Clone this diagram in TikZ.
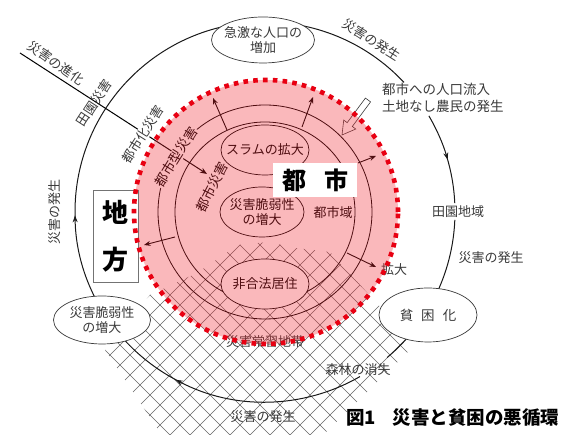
\documentclass[tikz,border=0pt]{standalone}
\usepackage{fontspec}
\setmainfont{Noto Sans CJK JP}
\usetikzlibrary{arrows.meta,calc,shapes.geometric}
\definecolor{ink}{HTML}{3A3A3A}
\definecolor{pinkred}{RGB}{240,40,50}
\definecolor{dotred}{RGB}{232,0,18}
\begin{document}
\begin{tikzpicture}[x=1pt,y=1pt,
  lbl/.style={font=\fontsize{13}{15.5}\selectfont, text=ink, inner sep=1pt, align=center},
  ilbl/.style={font=\fontsize{13.5}{15.5}\selectfont, text=black, inner sep=0.6pt},
  bub/.style={ellipse, draw=ink, fill=white, line width=0.7pt, inner sep=0pt},
  ibub/.style={ellipse, draw=black, fill=white, line width=0.7pt, inner sep=0pt},
  cyc/.style={draw=black!90, line width=1pt},
  cycarr/.style={cyc, -{Stealth[length=7pt,width=5pt]}},
  inarr/.style={draw=black, line width=0.9pt, -{Stealth[length=6.5pt,width=5pt]}},
  ring/.style={draw=black, line width=0.8pt},
  hatch/.style={draw=black!60, line width=0.5pt},
  bigbox/.style={fill=white, inner sep=0pt}
]
\useasboundingbox (0,0) rectangle (571,435);
\fill[white] (0,0) rectangle (571,435);

\coordinate (C) at (265,223);
\coordinate (R) at (266,223);

% ---- cross hatching
\begin{scope}
\clip (105,85) -- (150,140) -- (197,162) -- (238,190) -- (268,193) -- (295,187)
  -- (330,183) -- (415,90) -- (318,-5) -- (165,-5) -- cycle;
\foreach \c in {-300,-280,...,460} { \draw[hatch] (\c,-10) -- ++(460,460); }
\foreach \c in {100,120,...,900} { \draw[hatch] (\c,-10) -- ++(-460,460); }
\end{scope}

% ---- outer cycle
\draw[cycarr] (C) ++(300:190pt) arc[start angle=300,end angle=242,radius=190pt];
\draw[cycarr] (C) ++(243:190pt) arc[start angle=243,end angle=181,radius=190pt];
\draw[cyc] (C) ++(182:190pt) arc[start angle=182,end angle=43,radius=190pt];
\draw[cycarr] (C) ++(30.4:190pt) arc[start angle=30.4,end angle=16,radius=190pt];
\draw[cyc] (C) ++(17:190pt) arc[start angle=17,end angle=2.7,radius=190pt];
\draw[cyc] (C) ++(-2.4:190pt) arc[start angle=-2.4,end angle=-50,radius=190pt];

% ---- rings of the city
\draw[ring] (C) circle[radius=107pt];
\draw[ring] (C) circle[radius=90pt];

% ---- evolution line
\coordinate (evoS) at (20,382);
\coordinate (evoE) at (207,261);
\draw[line width=1pt, -{Stealth[length=7pt,width=5.5pt]}] (evoS) -- (evoE);

% ---- inner arrows
\coordinate (a1s) at (227,305); \coordinate (a1e) at (213,337);
\coordinate (a2s) at (302,308); \coordinate (a2e) at (313,338);
\coordinate (a3s) at (358,272); \coordinate (a3e) at (376,279);
\coordinate (a4s) at (347,182); \coordinate (a4e) at (376,168);
\coordinate (a5s) at (175,198); \coordinate (a5e) at (144,190);
\draw[inarr] (a1s) -- (a1e);
\draw[inarr] (a2s) -- (a2e);
\draw[inarr] (a3s) -- (a3e);
\draw[inarr] (a4s) -- (a4e);
\draw[inarr] (a5s) -- (a5e);

% ---- hollow arrow
\coordinate (hatail) at (368,335);
\coordinate (hatip) at (342,300);
\coordinate (hb) at ($(hatip)!13pt!(hatail)$);
\draw[fill=white, draw=ink, line width=0.6pt]
  ($(hatail)!3.2pt!90:(hatip)$) -- ($(hb)!3.2pt!90:(hatip)$) -- ($(hb)!7.5pt!90:(hatip)$)
  -- (hatip) -- ($(hb)!7.5pt!-90:(hatip)$) -- ($(hb)!3.2pt!-90:(hatip)$)
  -- ($(hatail)!3.2pt!-90:(hatip)$) -- cycle;

% ---- outer ellipses
\node[bub, minimum width=103, minimum height=46] (topE) at (263,395) {};
\node[lbl] (topT) at (topE) {急激な人口の\\増加};
\node[bub, minimum width=98, minimum height=54] (poorE) at (428,120) {};
\node[lbl, font=\fontsize{13.5}{15.5}\selectfont] (poorT) at (poorE) {貧\hspace{8pt}困\hspace{8pt}化};
\node[bub, minimum width=97, minimum height=48] (leftE) at (102,115) {};
\node[lbl] (leftT) at (leftE) {災害脆弱性\\の増大};

% ---- inner ellipses
\node[ibub, minimum width=88, minimum height=50] (slumE) at (265,285) {};
\node[ilbl, font=\fontsize{13}{15.5}\selectfont] (slumT) at (slumE) {スラムの拡大};
\node[ibub, minimum width=84, minimum height=50] (vulnE) at (262,223) {};
\node[ilbl, align=center, font=\fontsize{13}{15.5}\selectfont] (vulnT) at (vulnE) {災害脆弱性\\の増大};
\node[ibub, minimum width=88, minimum height=50] (illegE) at (265,151) {};
\node[ilbl, font=\fontsize{13}{15.5}\selectfont] (illegT) at (illegE) {非合法居住};

% ---- labels
\node[lbl, rotate=-35] (evoL) at (56,372) {災害の進化};
\node[lbl, rotate=57] (denL) at (94,332) {田園災害};
\node[lbl, rotate=58, fill=white, inner sep=0.8pt] (urbzL) at (143,301) {都市化災害};
\node[ilbl, rotate=58, fill=white] (urbtL) at (176,278) {都市型災害};
\node[ilbl, rotate=63] (urbL) at (212,248) {都市災害};
\node[ilbl, font=\fontsize{13}{15.5}\selectfont] (areaL) at (333,222) {都市域};
\node[lbl] (expL) at (394,165) {拡大};
\node[lbl, rotate=-32] (occ1) at (372,395) {災害の発生};
\node[lbl, anchor=west, align=left, font=\fontsize{13.5}{17}\selectfont] (flowL) at (381,337) {都市への人口流入\\土地なし農民の発生};
\node[lbl] (ruralL) at (458,223) {田園地域};
\node[lbl] (occ2) at (491,177) {災害の発生};
\node[lbl] (forL) at (358,65) {森林の消失};
\node[lbl] (occ3) at (263,18) {災害の発生};
\node[lbl] (habL) at (265,93) {災害常習地帯};
\node[lbl, rotate=90] (occ4) at (55,223) {災害の発生};

% ---- pink city overlay
\fill[pinkred, opacity=0.33] (R) circle[radius=132pt];

% ---- boxes
\node[bigbox, draw=black!55, line width=0.7pt, minimum width=45, minimum height=92] (chiho) at (115.5,199) {};
\node[font=\fontsize{26}{47}\selectfont\bfseries, align=center, inner sep=0pt] (chihoT) at (chiho) {地\\方};

\draw[dotred, line width=4.6pt, dash pattern=on 4.6pt off 5.2pt] (R) circle[radius=132pt];

\node[bigbox, minimum width=84, minimum height=34] (toshi) at (315,255) {};
\node[font=\fontsize{24}{28}\selectfont\bfseries, inner sep=0pt] (toshiT) at (toshi) {都\hspace{18pt}市};

% ---- caption
\node[anchor=west, font=\fontsize{18.5}{22}\selectfont\bfseries, inner sep=0pt] (cap) at (346,17) {図1\hspace{0.9em}災害と貧困の悪循環};
\end{tikzpicture}
\end{document}
